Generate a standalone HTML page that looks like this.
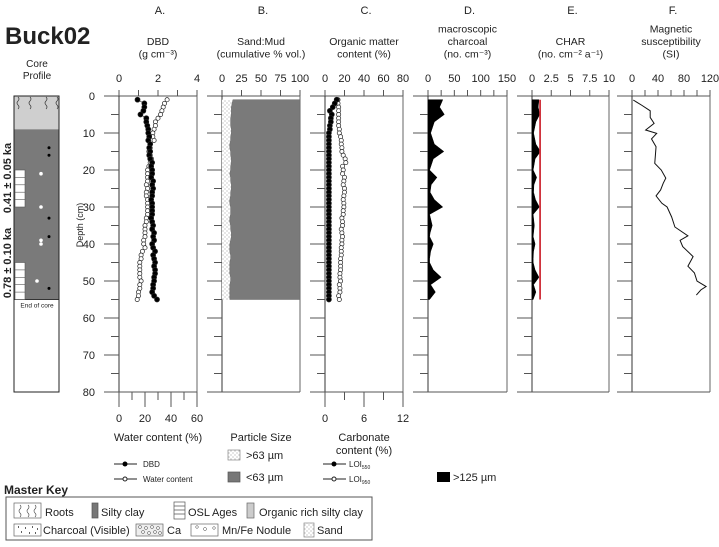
<!DOCTYPE html>
<html><head><meta charset="utf-8">
<style>
html,body{margin:0;padding:0;background:#fff;}
svg{display:block;font-family:"Liberation Sans",Arial,sans-serif;}
text{fill:#222;}
</style></head>
<body>
<svg id="chart" width="719" height="547" viewBox="0 0 719 547" xmlns="http://www.w3.org/2000/svg">
<defs>
<pattern id="stip" width="4" height="4" patternUnits="userSpaceOnUse"><rect width="4" height="4" fill="#fff"/><circle cx="1" cy="1" r="0.5" fill="#777"/><circle cx="3" cy="3" r="0.5" fill="#777"/></pattern>
</defs>
<text x="5" y="44" font-size="24" font-weight="bold" fill="#000">Buck02</text>
<g id="core">
<text x="37" y="67" font-size="10" text-anchor="middle">Core</text>
<text x="37" y="79" font-size="10" text-anchor="middle">Profile</text>
</g>
<g id="panels"></g>
<g id="legend">
<text x="158" y="441" font-size="11" text-anchor="middle">Water content (%)</text>
<line x1="114" y1="464" x2="137" y2="464" stroke="#222"/><circle cx="125" cy="464" r="2.5" fill="#000"/>
<text x="143" y="467" font-size="8">DBD</text>
<line x1="114" y1="479" x2="137" y2="479" stroke="#222"/><circle cx="125" cy="479" r="2" fill="#fff" stroke="#222"/>
<text x="143" y="482" font-size="8">Water content</text>
<text x="261" y="441" font-size="11" text-anchor="middle">Particle Size</text>
<rect x="228" y="450" width="12" height="10" fill="url(#stip)" stroke="#888" stroke-width="0.7"/>
<text x="246" y="459" font-size="11">&gt;63 µm</text>
<rect x="228" y="472" width="12" height="10" fill="#777" stroke="#555" stroke-width="0.7"/>
<text x="246" y="481" font-size="11">&lt;63 µm</text>
<text x="364" y="441" font-size="11" text-anchor="middle">Carbonate</text>
<text x="364" y="454" font-size="11" text-anchor="middle">content (%)</text>
<line x1="323" y1="464" x2="346" y2="464" stroke="#222"/><circle cx="334" cy="464" r="2.5" fill="#000"/>
<text x="349" y="467" font-size="8">LOI<tspan font-size="5" dy="2">550</tspan></text>
<line x1="323" y1="479" x2="346" y2="479" stroke="#222"/><circle cx="334" cy="479" r="2" fill="#fff" stroke="#222"/>
<text x="349" y="482" font-size="8">LOI<tspan font-size="5" dy="2">950</tspan></text>
<rect x="437" y="472" width="13" height="10" fill="#000"/>
<text x="453" y="481" font-size="11">&gt;125 µm</text>
</g>
<g id="masterkey">
<text x="4" y="494" font-size="12" font-weight="bold" fill="#000">Master Key</text>
<rect x="6" y="497" width="366" height="43" fill="#fff" stroke="#555"/>
<rect x="14" y="503" width="27" height="15" fill="#fff" stroke="#666" stroke-width="0.7"/>
<path d="M20 505 q2 2 0 4 q-2 2 0 4 q2 2 0 4 M28 505 q2 2 0 4 q-2 2 0 4 q2 2 0 4 M35 505 q2 2 0 4 q-2 2 0 4 q2 2 0 4" fill="none" stroke="#444" stroke-width="0.6"/>
<text x="45" y="516" font-size="11">Roots</text>
<rect x="92" y="503" width="6" height="15" fill="#777" stroke="#555" stroke-width="0.7"/>
<text x="101" y="516" font-size="11">Silty clay</text>
<rect x="174" y="502" width="11" height="17" fill="#fff" stroke="#555" stroke-width="0.7"/>
<path d="M174 506h11M174 510h11M174 514h11" stroke="#555" stroke-width="0.7"/>
<text x="188" y="516" font-size="11">OSL Ages</text>
<rect x="247" y="503" width="7" height="15" fill="#ccc" stroke="#666" stroke-width="0.7"/>
<text x="259" y="516" font-size="11">Organic rich silty clay</text>
<rect x="14" y="524" width="27" height="12" fill="#fff" stroke="#666" stroke-width="0.7"/>
<path d="M18 527h1M25 528h1M32 527h1M37 529h1M21 532h1M29 533h1M35 533h1" stroke="#000" stroke-width="1.2"/>
<text x="43" y="534" font-size="11">Charcoal (Visible)</text>
<rect x="136" y="524" width="27" height="12" fill="#eee" stroke="#666" stroke-width="0.7"/>
<g fill="none" stroke="#444" stroke-width="0.5"><circle cx="140" cy="527" r="1.5"/><circle cx="146" cy="528" r="1.5"/><circle cx="152" cy="527" r="1.5"/><circle cx="158" cy="528" r="1.5"/><circle cx="143" cy="532" r="1.5"/><circle cx="149" cy="533" r="1.5"/><circle cx="155" cy="532" r="1.5"/><circle cx="160" cy="533" r="1.5"/></g>
<text x="167" y="534" font-size="11">Ca</text>
<rect x="191" y="524" width="27" height="12" fill="#fff" stroke="#666" stroke-width="0.7"/>
<g fill="none" stroke="#444" stroke-width="0.5"><circle cx="197" cy="527" r="1.3"/><circle cx="205" cy="529" r="1.5"/><circle cx="214" cy="528" r="1.3"/></g>
<text x="222" y="534" font-size="11">Mn/Fe Nodule</text>
<rect x="304" y="523" width="10" height="14" fill="url(#stip)" stroke="#888" stroke-width="0.7"/>
<text x="317" y="534" font-size="11">Sand</text>
</g>
</svg>
<script>
// ---- data ----
const depthTicks = [0,10,20,30,40,50,60,70,80];
const dbdDepth = [1,2,3,4,5,6,7,8,9,10,11,12,13,14,15,16,17,18,19,20,21,22,23,24,25,26,27,28,29,30,31,32,33,34,35,36,37,38,39,40,41,42,43,44,45,46,47,48,49,50,51,52,53,54,55];
const dbdValues = [0.95,1.3,1.3,1.25,1.1,1.4,1.4,1.45,1.5,1.5,1.55,1.5,1.6,1.55,1.6,1.55,1.6,1.7,1.65,1.7,1.7,1.65,1.75,1.7,1.75,1.7,1.7,1.65,1.7,1.7,1.7,1.7,1.65,1.7,1.75,1.7,1.8,1.75,1.8,1.7,1.75,1.85,1.75,1.8,1.85,1.8,1.85,1.85,1.8,1.8,1.75,1.75,1.7,1.8,1.95];
const waterValues = [37,35,34,33,32,30,28,28,27,26,26,27,24,24,23,24,25,24,23,22,22,22,22,21,22,21,21,22,22,22,22,22,21,21,20,20,20,20,19,19,20,18,17,17,16,16,16,16,16,17,16,16,15,15,14];
const loi550Values = [12,10,8,5,7,6,6,5,5,4,4,4,4,4,4,4,4,4,4,4,4,4,4,4,4,4,4,4,4,4,4,4,4,4,4,4,4,4,4,4,4,4,4,4,4,4,4,4,4,4,4,4,4,4,4];
const loi950Values = [2.0,2.0,2.1,2.1,2.1,2.1,2.1,2.1,2.2,2.2,2.4,2.5,2.5,2.6,2.6,2.8,3.1,3.2,2.7,2.8,2.7,3.0,2.9,2.8,3.0,3.0,2.9,2.8,2.9,2.9,2.8,2.8,2.6,2.7,2.7,2.5,2.6,2.7,2.6,2.6,2.5,2.5,2.5,2.4,2.4,2.4,2.4,2.3,2.3,2.4,2.2,2.3,2.3,2.1,2.2];
const sandValues = [14,13,12,12,12,11,11,11,12,12,11,11,10,10,11,11,12,12,11,11,10,11,11,12,12,11,11,10,10,11,11,11,10,10,11,11,12,12,11,10,10,10,11,11,10,10,10,10,11,11,10,10,10,10,10];
const charDepth = [1,3,5,7,10,13,15,17,20,22,24,26,28,30,32,35,37,38,40,42,44,45,47,49,51,53,55];
const charcoalValues = [28,22,31,12,5,12,30,10,3,17,6,4,12,28,3,8,4,3,10,5,3,3,10,25,5,14,3];
const charValues = [0.9,0.8,1.0,0.5,0.2,0.5,1.1,0.4,0.15,0.6,0.25,0.2,0.45,0.95,0.15,0.3,0.2,0.15,0.4,0.2,0.15,0.15,0.4,0.9,0.2,0.5,0.15];
const charThreshold = [1.05];
const magDepth = [1.1,2.5,4,5.8,7.4,9.2,10.1,11.6,13.7,16,18.2,20,22.2,23.6,25.4,27,29,30,32.7,35.4,37.8,39,40.7,43.4,46,47.8,50,51.5,52.4,53.8];
const magValues = [2,15,28,28,34,21,38,30,37,36,35,45,52,48,44,37,46,54,61,66,86,74,78,94,86,96,100,114,106,99];
const coreDots = [14,16,33,38,52];
const coreNodules = [[21,12],[30,12],[39,12],[40,12],[50,8]];

// ---- geometry ----
const NS="http://www.w3.org/2000/svg";
const svg=document.getElementById('chart');
const panelsG=document.getElementById('panels');
const Y0=96, PXCM=3.7;
function yScale(d){return Y0+d*PXCM;}
const YB=yScale(80);
function mk(tag,attrs,parent){const e=document.createElementNS(NS,tag);for(const k in attrs)e.setAttribute(k,attrs[k]);(parent||panelsG).appendChild(e);return e;}
function txt(x,y,s,size,anchor,parent){const t=mk('text',{x:x,y:y,'font-size':size,'text-anchor':anchor||'middle'},parent);t.textContent=s;return t;}

const panels=[
 {id:'a',letter:'A.',x0:119,x1:197,max:4,ticks:[0,2,4],minor:1,title:['DBD','(g cm⁻³)']},
 {id:'b',letter:'B.',x0:222,x1:300,max:100,ticks:[0,25,50,75,100],minor:25,title:['Sand:Mud','(cumulative % vol.)']},
 {id:'c',letter:'C.',x0:325,x1:403,max:80,ticks:[0,20,40,60,80],minor:20,title:['Organic matter','content (%)']},
 {id:'d',letter:'D.',x0:428,x1:507,max:150,ticks:[0,50,100,150],minor:25,title:['macroscopic','charcoal','(no. cm⁻³)']},
 {id:'e',letter:'E.',x0:532,x1:609,max:10,ticks:[0,2.5,5,7.5,10],minor:2.5,title:['CHAR','(no. cm⁻² a⁻¹)']},
 {id:'f',letter:'F.',x0:632,x1:710,max:120,ticks:[0,40,80,120],minor:20,title:['Magnetic','susceptibility','(SI)']}
];
function xs(p,v,max){return p.x0+(v/(max||p.max))*(p.x1-p.x0);}

panels.forEach(p=>{
  const g=mk('g',{});
  
  
  const cx=(p.x0+p.x1)/2;
  const l=txt(cx+2,14,p.letter,11,'middle',g);
  
  
  const n=p.title.length;
  p.title.forEach((s,i)=>{const t=txt(cx,70-(n-i)*12.5+ (n===2?0:0),s,10.5,'middle',g);
    
    });
  p.ticks.forEach(v=>{const t=txt(xs(p,v),82,String(v),11,'middle',g);
    
    });
  for(let v=0;v<=p.max+1e-9;v+=p.minor){mk('line',{x1:xs(p,v),x2:xs(p,v),y1:Y0-6,y2:Y0,stroke:'#555'},g);}
  // frame
  mk('line',{x1:p.x0-15,x2:p.x1,y1:Y0,y2:Y0,stroke:'#555'},g);
  mk('line',{x1:p.x0,x2:p.x0,y1:Y0,y2:YB,stroke:'#333'},g);
  mk('line',{x1:p.x1,x2:p.x1,y1:Y0,y2:YB,stroke:'#666'},g);
  mk('line',{x1:p.x0-15,x2:p.x1,y1:YB,y2:YB,stroke:'#555'},g);
  for(let d=5;d<80;d+=5){const maj=d%10===0;mk('line',{x1:p.x0-(maj?15:8),x2:p.x0,y1:yScale(d),y2:yScale(d),stroke:'#555'},g);}
  p.g=g;
});
// depth labels
depthTicks.forEach(d=>{const t=txt(95,yScale(d)+4,String(d),11,'end');
  
  });
const dl=txt(0,0,'Depth (cm)',9,'middle');
dl.setAttribute('transform','translate(83,225) rotate(-90)');



// bottom axes A (water) and C (carbonate)
const A=panels[0],B=panels[1],C=panels[2],D=panels[3],E=panels[4],F=panels[5];
[[A,60,[0,20,40,60],10],[C,12,[0,6,12],3]].forEach(([p,max,ticks,minor])=>{
  for(let v=0;v<=max;v+=minor){const maj=ticks.includes(v);mk('line',{x1:xs(p,v,max),x2:xs(p,v,max),y1:YB,y2:YB+(maj?15:8),stroke:'#555'},p.g);}
  ticks.forEach(v=>{const t=txt(xs(p,v,max),YB+30,String(v),11,'middle',p.g);
    
    });
});

// Panel B: sand/mud
(function(){
  let mud='M'+B.x1+','+yScale(dbdDepth[0]);
  let pts=dbdDepth.map((d,i)=>[xs(B,sandValues[i]),yScale(d)]);
  const sandPath='M'+B.x0+','+yScale(dbdDepth[0])+' '+pts.map(p=>'L'+p[0]+','+p[1]).join(' ')+' L'+B.x0+','+yScale(dbdDepth[dbdDepth.length-1])+'Z';
  const mudPath='M'+B.x1+','+pts[0][1]+' '+pts.map(p=>'L'+p[0]+','+p[1]).join(' ')+' L'+B.x1+','+pts[pts.length-1][1]+'Z';
  const s=mk('path',{d:sandPath,fill:'url(#stip)',stroke:'none'},B.g);
  
  
  const m=mk('path',{d:mudPath,fill:'#7a7a7a',stroke:'#666','stroke-width':0.5},B.g);
  
  
})();

function series(p,vals,max,filled,name,r){
  const pts=dbdDepth.map((d,i)=>[xs(p,vals[i],max),yScale(d)]);
  const pl=mk('polyline',{points:pts.map(q=>q.join(',')).join(' '),fill:'none',stroke:'#333','stroke-width':0.6},p.g);
  
  
  pts.forEach(q=>{const c=mk('circle',{cx:q[0],cy:q[1],r:r,fill:filled?'#000':'#fff',stroke:'#222','stroke-width':0.7},p.g);
    
    });
}
series(A,waterValues,60,false,'water-content',2.1);
series(A,dbdValues,4,true,'dbd',2.5);
series(C,loi950Values,12,false,'loi950',2.1);
series(C,loi550Values,80,true,'loi550',2.5);

function area(p,dep,vals,name){
  const pts=dep.map((d,i)=>xs(p,vals[i])+','+yScale(d));
  const d='M'+p.x0+','+yScale(dep[0])+' L'+pts.join(' L')+' L'+p.x0+','+yScale(dep[dep.length-1])+'Z';
  const a=mk('path',{d:d,fill:'#000',stroke:'#000','stroke-width':0.5},p.g);
  
  
}
area(D,charDepth,charcoalValues,'charcoal-area');
area(E,charDepth,charValues,'char-area');
const rl=mk('line',{x1:xs(E,charThreshold[0]),x2:xs(E,charThreshold[0]),y1:yScale(1),y2:yScale(55),stroke:'#d0303a','stroke-width':1.8},E.g);


const ml=mk('polyline',{points:magDepth.map((d,i)=>xs(F,magValues[i])+','+yScale(d)).join(' '),fill:'none',stroke:'#111','stroke-width':1},F.g);



// core profile
const core=document.getElementById('core');
mk('rect',{x:14,y:yScale(0),width:45,height:yScale(9)-yScale(0),fill:'#cfcfcf'},core);
mk('rect',{x:14,y:yScale(9),width:45,height:yScale(55)-yScale(9),fill:'#7a7a7a'},core);
mk('line',{x1:14,x2:59,y1:yScale(55),y2:yScale(55),stroke:'#333'},core);
[18,30,46,57].forEach(x=>mk('path',{d:`M${x} ${Y0+1} q2 2 0 4 q-2 2 0 4 q2 2 0 4`,fill:'none',stroke:'#333','stroke-width':0.7},core));
[[20,30],[45,55]].forEach(([a,b])=>{mk('rect',{x:15,y:yScale(a),width:10,height:yScale(b)-yScale(a),fill:'#fff',stroke:'#555','stroke-width':0.6},core);
  for(let d=a+2;d<b;d+=2)mk('line',{x1:15,x2:25,y1:yScale(d),y2:yScale(d),stroke:'#555','stroke-width':0.6},core);});
coreDots.forEach(d=>mk('circle',{cx:49,cy:yScale(d),r:1.5,fill:'#000'},core));
coreNodules.forEach(([d,o])=>mk('circle',{cx:29+o,cy:yScale(d),r:1.8,fill:'#fff'},core));
mk('rect',{x:14,y:yScale(0),width:45,height:yScale(80)-yScale(0),fill:'none',stroke:'#222','stroke-width':1},core);
txt(37,yScale(55)+8,'End of core',6.5,'middle',core);
[['0.41 ± 0.05 ka',178],['0.78 ± 0.10 ka',263]].forEach(([s,y])=>{const t=txt(0,0,s,11,'middle',core);
  t.setAttribute('font-weight','bold');
  t.setAttribute('transform',`translate(11,${y}) rotate(-90)`);
  
  });
</script>
</body></html>
